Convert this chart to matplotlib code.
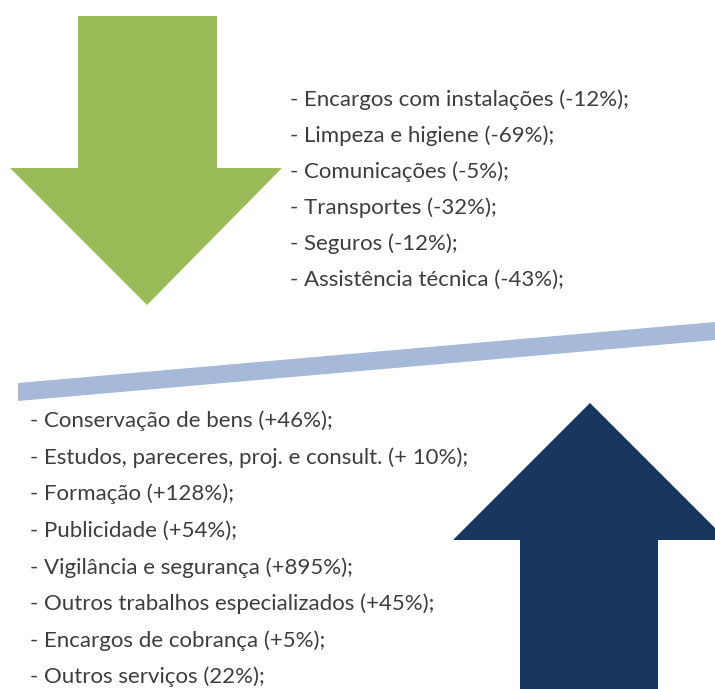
import matplotlib.pyplot as plt
from matplotlib.patches import Polygon

# =========================
# Dados
# =========================
desc_items = ["Encargos com instalações", "Limpeza e higiene", "Comunicações",
              "Transportes", "Seguros", "Assistência técnica"]
desc_values = ["(-12%)", "(-69%)", " (-5%)", "(-32%)", "(-12%)", "(-43%)"]

asc_items = ["Conservação de bens", "Estudos, pareceres, proj. e consult.", "Formação",
             "Publicidade", "Vigilância e segurança", "Outros trabalhos especializados",
             "Encargos de cobrança", "Outros serviços"]
asc_values = [" (+46%)", "(+ 10%)", "(+128%)", "(+54%)", "(+895%)", " (+45%)",
              "(+5%)", "(22%)"]

GREEN = "#9bbb59"
NAVY = "#17375e"
BAR = "#a7b9d8"
TXT = "#3d3d3d"

W, H = 715, 689
fig = plt.figure(figsize=(W / 100, H / 100), dpi=100)
ax = fig.add_axes([0, 0, 1, 1])
ax.set_xlim(0, W)
ax.set_ylim(H, 0)
ax.axis("off")

# seta verde (descida)
ax.add_patch(Polygon([(78, 16), (217, 16), (217, 168), (282, 168), (147, 305),
                      (10, 168), (78, 168)], closed=True, color=GREEN, lw=0))

# seta azul (subida)
ax.add_patch(Polygon([(520, 689), (520, 540), (453, 540), (590, 403), (727, 540),
                      (658, 540), (658, 689)], closed=True, color=NAVY, lw=0))

# faixa diagonal
ax.add_patch(Polygon([(18, 383), (715, 322), (715, 340), (18, 401)],
                     closed=True, color=BAR, lw=0))

# listas
for i, (name, val) in enumerate(zip(desc_items, desc_values)):
    ax.text(290, 100 + i * 36, f"- {name} {val};".replace("  ", " "),
            fontsize=16, family="Lato", color=TXT, va="center", ha="left")

for i, (name, val) in enumerate(zip(asc_items, asc_values)):
    ax.text(30, 421 + i * 36.6, f"- {name} {val};".replace("  ", " "),
            fontsize=16, family="Lato", color=TXT, va="center", ha="left")

fig.savefig("out.png", dpi=100, facecolor="white")
